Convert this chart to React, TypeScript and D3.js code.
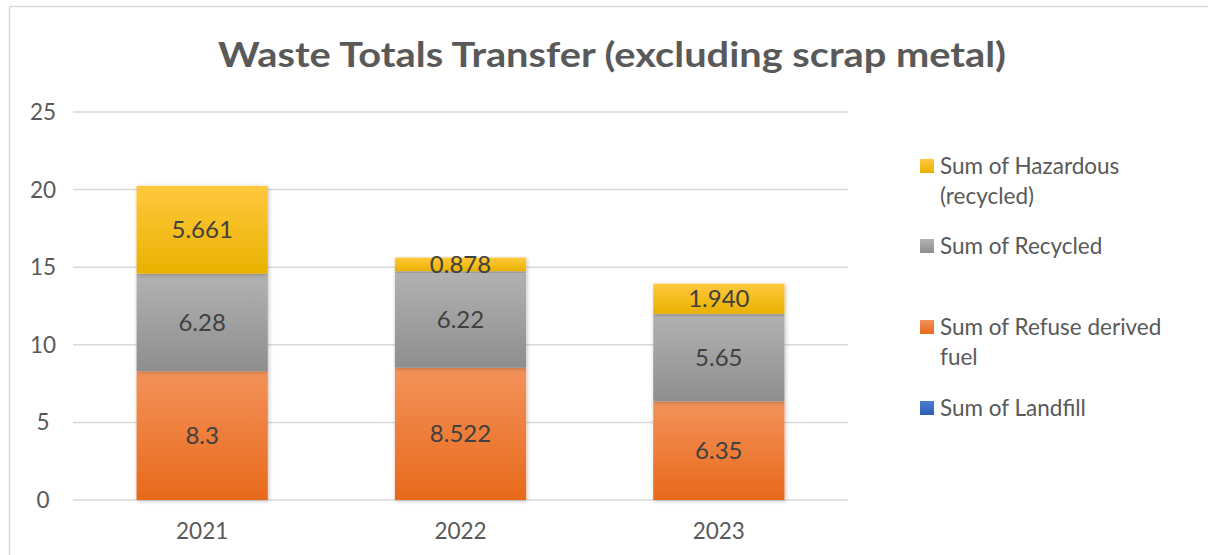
import React from "react";
import * as d3 from "d3";

const years = ["2021", "2022", "2023"];
const landfill = [0, 0, 0];
const refuseFuel = [8.3, 8.522, 6.35];
const recycled = [6.28, 6.22, 5.65];
const hazardous = [5.661, 0.878, 1.94];
const labelsRefuse = ["8.3", "8.522", "6.35"];
const labelsRecycled = ["6.28", "6.22", "5.65"];
const labelsHazard = ["5.661", "0.878", "1.940"];
const yTicks = [0, 5, 10, 15, 20, 25];

const series = [
  { key: "landfill", name: "Sum of Landfill", values: landfill, labels: null, top: "#4a7cd0", bottom: "#2f5eb5" },
  { key: "refuse", name: "Sum of Refuse derived fuel", values: refuseFuel, labels: labelsRefuse, top: "#f3925a", bottom: "#e8691b" },
  { key: "recycled", name: "Sum of Recycled", values: recycled, labels: labelsRecycled, top: "#b2b2b2", bottom: "#8e8e8e" },
  { key: "hazard", name: "Sum of Hazardous (recycled)", values: hazardous, labels: labelsHazard, top: "#ffc83d", bottom: "#e9b200" },
];

const FONT = "Lato, 'Open Sans', sans-serif";
const TXT = "#595959";

const App = () => {
  const W = 1208, H = 555;
  const plotL = 73, plotR = 848, plotT = 112, plotB = 500;
  const x = d3.scaleBand().domain(years).range([plotL, plotR]).paddingInner(0.492).paddingOuter(0.246);
  const y = d3.scaleLinear().domain([0, 25]).range([plotB, plotT]);

  const stackData = years.map((yr, i) => {
    const row: any = { year: yr };
    series.forEach(s => (row[s.key] = s.values[i]));
    return row;
  });
  const stacked = d3.stack().keys(series.map(s => s.key))(stackData);

  const legendItems = [
    { s: series[3], lines: ["Sum of Hazardous", "(recycled)"], y: 166 },
    { s: series[2], lines: ["Sum of Recycled"], y: 246 },
    { s: series[1], lines: ["Sum of Refuse derived", "fuel"], y: 327 },
    { s: series[0], lines: ["Sum of Landfill"], y: 408 },
  ];

  return (
    <svg width={W} height={H} style={{ position: "absolute", left: 0, top: 0, background: "#fff" }}>
      <defs>
        {series.map(s => (
          <linearGradient key={s.key} id={"g-" + s.key} x1="0" y1="0" x2="0" y2="1">
            <stop offset="0" stopColor={s.top} />
            <stop offset="1" stopColor={s.bottom} />
          </linearGradient>
        ))}
        <filter id="shadow" x="-10%" y="-10%" width="120%" height="120%">
          <feDropShadow dx="1" dy="1" stdDeviation="2" floodColor="#000" floodOpacity="0.25" />
        </filter>
      </defs>
      <line x1={9.5} y1={6.5} x2={W} y2={6.5} stroke="#d9d9d9" strokeWidth={1.5} />
      <line x1={9.5} y1={6.5} x2={9.5} y2={H} stroke="#d9d9d9" strokeWidth={1.5} />

      <text x={612} y={67} textAnchor="middle" fontFamily={FONT} fontWeight="bold" fontSize={35}
        fill={TXT} textLength={788} lengthAdjust="spacingAndGlyphs">
        Waste Totals Transfer (excluding scrap metal)
      </text>

      {yTicks.map(t => (
        <g key={t}>
          <line x1={plotL} x2={plotR} y1={y(t)} y2={y(t)} stroke="#d9d9d9" strokeWidth={1.5} />
          <text x={43} y={y(t) + 8} textAnchor="middle" fontFamily={FONT} fontSize={22.5} fill={TXT}>{t}</text>
        </g>
      ))}

      {stacked.map((layer, li) => {
        const s = series[li];
        return (
          <g key={s.key}>
            {layer.map((d, i) => {
              const h = y(d[0]) - y(d[1]);
              if (h <= 0) return null;
              return (
                <rect key={i} x={x(years[i])} y={y(d[1])} width={x.bandwidth()} height={h}
                  fill={`url(#g-${s.key})`} filter="url(#shadow)" />
              );
            })}
          </g>
        );
      })}

      {stacked.map((layer, li) => {
        const s = series[li];
        if (!s.labels) return null;
        return (
          <g key={"l" + s.key}>
            {layer.map((d, i) => (
              <text key={i} x={(x(years[i]) as number) + x.bandwidth() / 2} y={(y(d[0]) + y(d[1])) / 2 + 8.5}
                textAnchor="middle" fontFamily={FONT} fontSize={24} fill="#404040">
                {s.labels![i]}
              </text>
            ))}
          </g>
        );
      })}

      {years.map(yr => (
        <text key={yr} x={(x(yr) as number) + x.bandwidth() / 2} y={539} textAnchor="middle"
          fontFamily={FONT} fontSize={22.5} fill={TXT}>{yr}</text>
      ))}

      {legendItems.map(it => (
        <g key={it.s.key}>
          <rect x={920} y={it.y - 7} width={14} height={14} fill={`url(#g-${it.s.key})`} />
          {it.lines.map((ln, k) => (
            <text key={k} x={940} y={it.y + 8 + k * 30} fontFamily={FONT} fontSize={22.5} fill={TXT}>{ln}</text>
          ))}
        </g>
      ))}
    </svg>
  );
};

export default App;
